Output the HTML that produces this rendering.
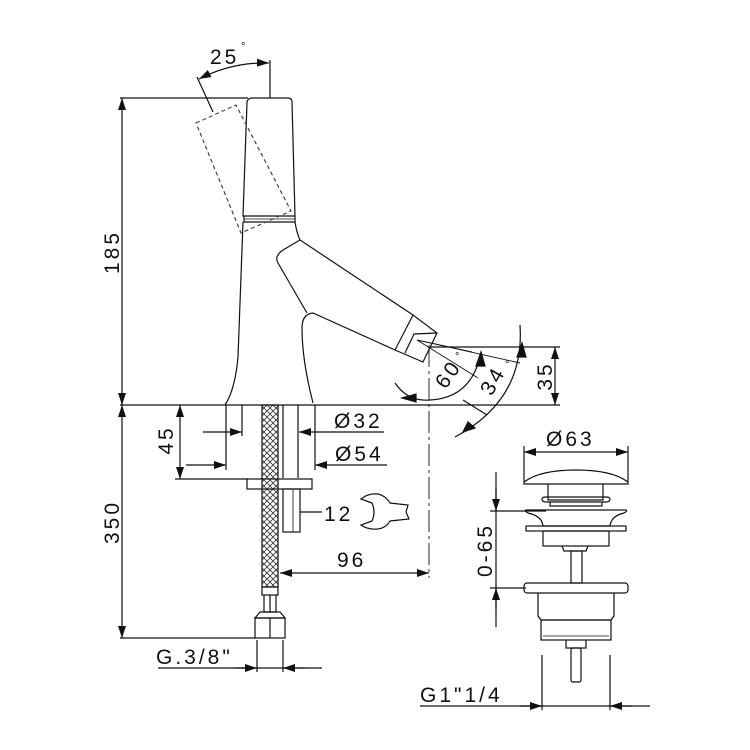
<!DOCTYPE html>
<html><head><meta charset="utf-8"><style>
html,body{margin:0;padding:0;background:#fff}
svg{display:block}
text{font-family:"Liberation Sans",sans-serif;font-size:21px;fill:#111;letter-spacing:3px}
</style></head><body>
<svg width="750" height="750" viewBox="0 0 750 750" xmlns="http://www.w3.org/2000/svg">
<defs>
<marker id="a" viewBox="0 0 12 8" refX="12" refY="4" markerWidth="12" markerHeight="8" markerUnits="userSpaceOnUse" orient="auto-start-reverse"><path d="M0,0L12,4L0,8z" fill="#111"/></marker>
<pattern id="hatch" width="6" height="6" patternUnits="userSpaceOnUse"><path d="M0,0L6,6M6,0L0,6" stroke="#333" stroke-width="0.8"/></pattern>
</defs>
<g fill="none" stroke="#111" stroke-width="1.2">
<line x1="120" y1="98" x2="248" y2="98"/>
<line x1="120" y1="405" x2="560" y2="405"/>
<line x1="120" y1="638" x2="256" y2="638"/>
<line x1="122" y1="98" x2="122" y2="405" marker-start="url(#a)" marker-end="url(#a)"/>
<line x1="122" y1="405" x2="122" y2="638" marker-start="url(#a)" marker-end="url(#a)"/>
<path d="M252,98 L288,98 Q292,98 292,102 L295,216 L243,216 L247,102 Q248,98 252,98 Z"/>
<path d="M244,216 L244,222 L295,222 L295,216"/>
<line x1="244" y1="219" x2="295" y2="219" stroke-width="0.8"/>
<path d="M196,123 L236,105 L291,211 L241,233 Z" stroke-dasharray="4,3" stroke="#444"/>
<line x1="270" y1="60" x2="270" y2="98"/>
<line x1="197" y1="77" x2="213" y2="112"/>
<path d="M199,79 Q232,62 269,63" marker-start="url(#a)" marker-end="url(#a)"/>
<path d="M243,222 L238,357 Q235,390 225,405"/>
<path d="M295,222 Q297,234 300,240 L413,315"/>
<path d="M300,240 L283,250 Q274,256 278,263 L307,313"/>
<path d="M313,403 Q302,360 302,328 Q302,314 313,313 L395,350"/>
<path d="M395,350 L413,315 L437,333 L423,362 Z"/>
<path d="M405,353 L414,334 L437,333"/>
<path d="M417,340 L472,352 M417,340 L478,378 M417,340 L520,363" stroke-width="0.9"/>
<line x1="429" y1="345" x2="429" y2="578" stroke-dasharray="22,4,3,4" stroke-width="0.9"/>
<path d="M395,383 Q408,402 430,400 Q470,398 480,357"/>
<polygon points="402,398 416,394 416,402" fill="#111"/>
<polygon points="481,352 476,366 485,366" fill="#111"/>
<path d="M520,325 Q525,400 455,437"/>
<polygon points="522,343 517,357 526,357" fill="#111"/>
<polygon points="475,428 468,422 463,432" fill="#111"/>
<line x1="463" y1="400" x2="487" y2="415"/>
<line x1="430" y1="347" x2="560" y2="347"/>
<line x1="555" y1="347" x2="555" y2="405" marker-start="url(#a)" marker-end="url(#a)"/>
<line x1="226" y1="405" x2="226" y2="470"/>
<line x1="242" y1="405" x2="242" y2="436"/>
<line x1="298" y1="405" x2="298" y2="478"/>
<line x1="315" y1="405" x2="315" y2="470"/>
<line x1="283" y1="405" x2="283" y2="478"/>
<line x1="203" y1="432" x2="242" y2="432" marker-end="url(#a)"/>
<line x1="384" y1="432" x2="299" y2="432" marker-end="url(#a)"/>
<line x1="186" y1="465" x2="226" y2="465" marker-end="url(#a)"/>
<line x1="387" y1="465" x2="315" y2="465" marker-end="url(#a)"/>
<line x1="175" y1="479" x2="248" y2="479"/>
<line x1="180" y1="405" x2="180" y2="479" marker-start="url(#a)" marker-end="url(#a)"/>
<rect x="262" y="405" width="16" height="182" fill="url(#hatch)"/>
<rect x="247" y="479" width="65" height="10"/>
<rect x="283" y="489" width="17" height="43"/>
<line x1="293" y1="489" x2="293" y2="532" stroke-width="0.8"/>
<line x1="300" y1="512" x2="322" y2="512"/>
<path d="M361,499 Q368,493 378,494 Q386,496 390,503 L408,505 L406,512 L409,519 L390,521 Q386,528 378,529 Q368,530 361,525 L372,521 Q376,512 372,503 Z"/>
<line x1="280" y1="573" x2="429" y2="573" marker-start="url(#a)" marker-end="url(#a)"/>
<rect x="262" y="587" width="16" height="8"/>
<path d="M264,595 L264,612 L276,612 L276,595 M270,595 L270,612"/>
<rect x="255" y="618" width="30" height="20"/>
<line x1="270" y1="618" x2="270" y2="638"/>
<path d="M260,612 L280,612 L285,618 L255,618 Z"/>
<line x1="257" y1="640" x2="257" y2="672"/>
<line x1="283" y1="640" x2="283" y2="672"/>
<line x1="158" y1="668" x2="322" y2="668"/>
<line x1="235" y1="668" x2="257" y2="668" marker-end="url(#a)"/>
<line x1="305" y1="668" x2="283" y2="668" marker-end="url(#a)"/>
<line x1="524" y1="446" x2="524" y2="482"/>
<line x1="628" y1="446" x2="628" y2="482"/>
<line x1="524" y1="452" x2="628" y2="452" marker-start="url(#a)" marker-end="url(#a)"/>
<path d="M524,482 Q540,470 576,470 Q612,470 628,482 L628,484 L524,484 Z"/>
<path d="M548,484 L548,500 L603,500 L603,484"/>
<path d="M542,499 Q542,497 546,497 L606,497 Q610,497 610,499 Q610,502 606,502 L546,502 Q542,502 542,499 Z"/>
<path d="M550,502 L550,506 L602,506 L602,502"/>
<path d="M526,510 L626,510 Q628,511 624,513 Q611,516 610,526 L543,526 Q542,516 528,513 Q524,511 526,510 Z"/>
<rect x="526" y="526" width="100" height="5"/>
<rect x="543" y="531" width="66" height="15"/>
<path d="M562,546 L564,551 L586,551 L588,546"/>
<rect x="571" y="551" width="11" height="32"/>
<rect x="524" y="583" width="104" height="10" rx="3"/>
<path d="M538,593 L538,616 L541,620 L611,620 L614,616 L614,593"/>
<rect x="541" y="620" width="70" height="20"/>
<line x1="543" y1="636" x2="609" y2="636" stroke-width="0.8"/>
<path d="M566,640 L566,648 L586,648 L586,640"/>
<rect x="571" y="648" width="10" height="34" rx="2"/>
<line x1="490" y1="511" x2="546" y2="511"/>
<line x1="490" y1="588" x2="526" y2="588"/>
<line x1="496" y1="472" x2="496" y2="627"/>
<line x1="496" y1="488" x2="496" y2="511" marker-end="url(#a)"/>
<line x1="496" y1="610" x2="496" y2="588" marker-end="url(#a)"/>
<line x1="542" y1="655" x2="542" y2="710"/>
<line x1="610" y1="655" x2="610" y2="710"/>
<line x1="420" y1="706" x2="650" y2="706"/>
<line x1="520" y1="706" x2="542" y2="706" marker-end="url(#a)"/>
<line x1="632" y1="706" x2="610" y2="706" marker-end="url(#a)"/>
</g>
<text x="210" y="64">25</text><text x="241" y="50" style="font-size:11px">°</text>
<text transform="translate(119,252) rotate(-90)" text-anchor="middle">185</text>
<text transform="translate(119,522) rotate(-90)" text-anchor="middle">350</text>
<text transform="translate(173,440) rotate(-90)" text-anchor="middle">45</text>
<text transform="translate(552,376) rotate(-90)" text-anchor="middle">35</text>
<text transform="translate(454,378) rotate(-55)" text-anchor="middle">60</text><text transform="translate(455,360)" style="font-size:11px">°</text>
<text transform="translate(499,384) rotate(-60)" text-anchor="middle">34</text><text transform="translate(505,368)" style="font-size:11px">°</text>
<text x="334" y="428">Ø32</text>
<text x="335" y="461">Ø54</text>
<text x="324" y="521">12</text>
<text x="337" y="567">96</text>
<text x="156" y="664">G.3/8"</text>
<text x="546" y="446">Ø63</text>
<text transform="translate(492,550) rotate(-90)" text-anchor="middle">0-65</text>
<text x="420" y="702">G1"1/4</text>
</svg>
</body></html>
